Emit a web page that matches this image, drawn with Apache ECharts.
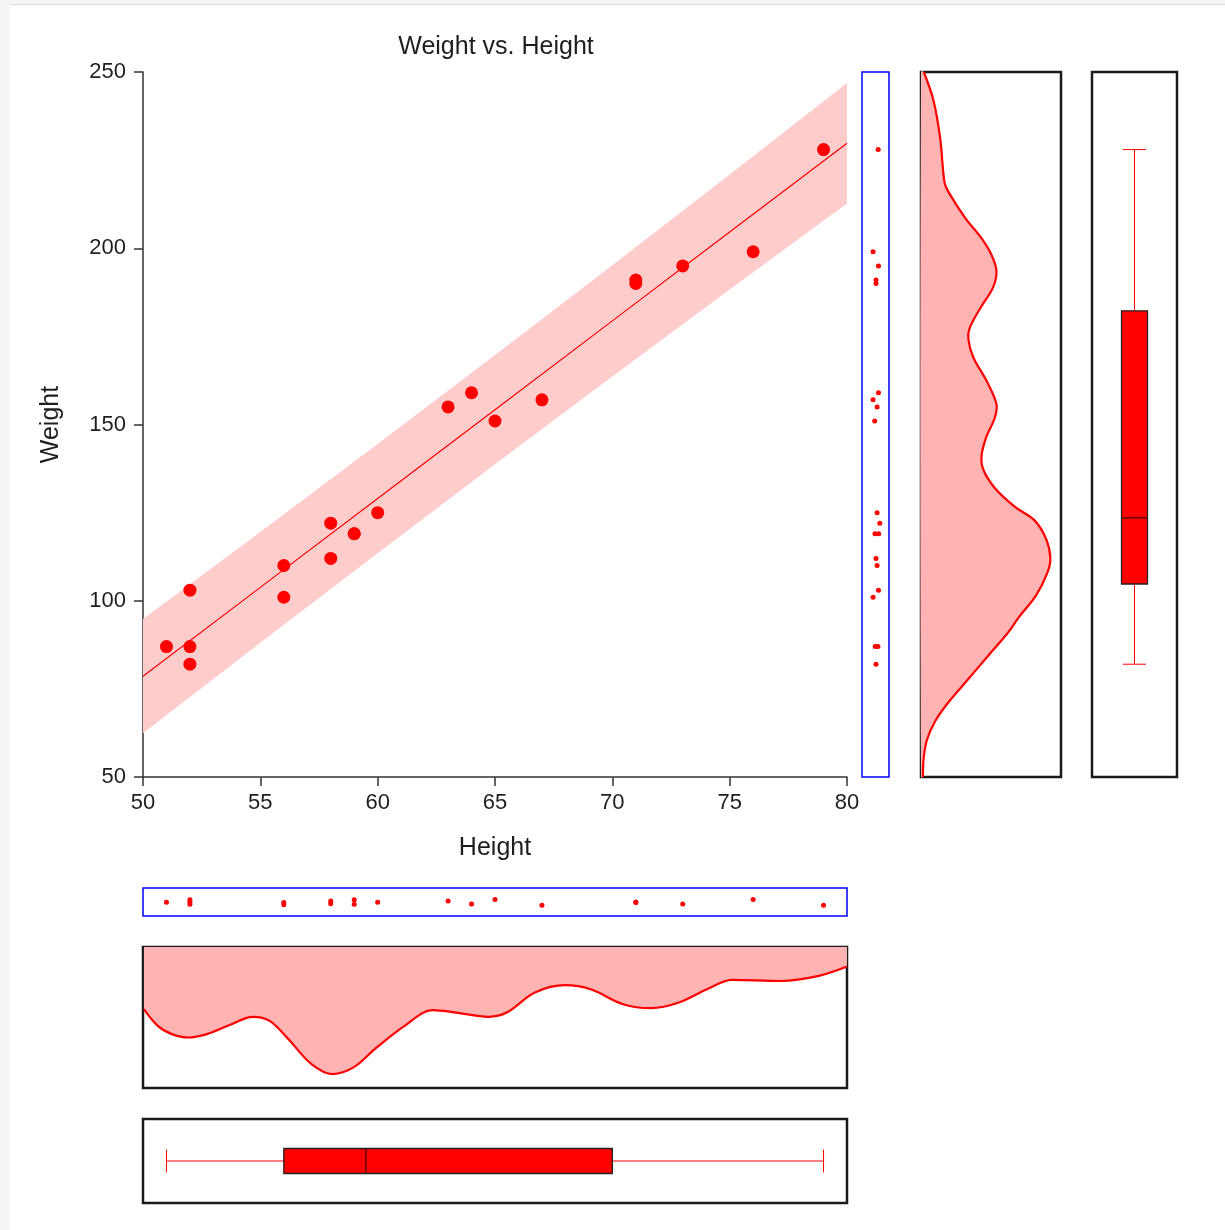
<!DOCTYPE html>
<html>
<head>
<meta charset="utf-8">
<title>Weight vs. Height</title>
<script src="https://cdn.jsdelivr.net/npm/echarts@6/dist/echarts.min.js"></script>
<style>
  html, body { margin: 0; padding: 0; background: #ffffff; }
  #chart { width: 1225px; height: 1230px; }
</style>
</head>
<body>
<div id="chart"></div>
<script>
// Observations (paired)
const heights = [51, 52, 52, 52, 56, 56, 58, 58, 59, 59, 60, 63, 64, 65, 67, 71, 71, 73, 76, 79];
const weights = [87, 103, 87, 82, 110, 101, 122, 112, 119, 119, 125, 155, 159, 151, 157, 191, 190, 195, 199, 228];

// Jitter positions of the marginal dot plots (fraction of the strip)
const weightJitter = [0.49, 0.61, 0.59, 0.52, 0.56, 0.41, 0.66, 0.52, 0.48, 0.62, 0.56, 0.56, 0.61, 0.47, 0.41, 0.52, 0.52, 0.61, 0.41, 0.60];
const heightJitter = [0.51, 0.42, 0.50, 0.58, 0.52, 0.60, 0.46, 0.56, 0.42, 0.58, 0.51, 0.46, 0.57, 0.41, 0.62, 0.50, 0.52, 0.57, 0.41, 0.62];

// Fitted line and prediction band
const bandX = [50, 55, 60, 65, 70, 75, 80];
const fitY = [78.6, 103.8, 129.0, 154.2, 179.4, 204.6, 229.8];
const bandLower = [62.4, 88.1, 113.5, 138.7, 163.6, 188.3, 212.7];
const bandUpper = [94.8, 119.5, 144.5, 169.7, 195.2, 220.9, 246.9];

// Box plot summaries: [min, Q1, median, Q3, max]
const heightBox = [51, 56, 59.5, 70, 79];
const weightBox = [82, 104.75, 123.5, 182.25, 228];

// Density of Weight (vertical panel): weight levels and relative density
const densWeight = [250, 241.8, 231.2, 218.7, 216, 208.7, 202.8, 198.1, 193.5, 188.9, 183.6, 177.6, 174.3, 169, 162.4, 155.8, 151.9, 146.6, 141.3, 137.3, 132, 126.7, 122.8, 117.5, 112.2, 108.2, 101.6, 95, 91, 84.4, 77.8, 71.2, 65.9, 60.6, 55.3, 50];
const densWeightVal = [0.02, 0.09, 0.137, 0.168, 0.196, 0.314, 0.433, 0.504, 0.539, 0.515, 0.433, 0.35, 0.338, 0.374, 0.468, 0.539, 0.527, 0.468, 0.433, 0.444, 0.527, 0.669, 0.811, 0.894, 0.924, 0.905, 0.823, 0.693, 0.622, 0.48, 0.338, 0.196, 0.102, 0.043, 0.019, 0.014];

// Density of Height (horizontal panel, drawn from the top edge)
const densHeight = [50.04, 50.63, 51.23, 51.92, 52.72, 53.61, 54.7, 55.4, 56.19, 57.18, 58.08, 58.97, 59.96, 61.15, 62.34, 63.33, 64.72, 65.5, 66.7, 67.99, 69.08, 70.46, 71.65, 72.84, 74.03, 75.1, 77.2, 78.8, 80];
const densHeightVal = [0.44, 0.559, 0.618, 0.642, 0.618, 0.559, 0.495, 0.524, 0.653, 0.83, 0.901, 0.854, 0.712, 0.559, 0.448, 0.465, 0.495, 0.465, 0.323, 0.271, 0.3, 0.406, 0.434, 0.394, 0.3, 0.233, 0.241, 0.205, 0.139];

const FONT = "'Liberation Sans', Arial, sans-serif";
const RED = '#ff0000';
const TEXT = '#1e1e1e';
const FRAME = '#1a1a1a';

const chart = echarts.init(document.getElementById('chart'), null, { renderer: 'canvas' });

const hidden = { show: false };
function hiddenValueAxis(gridIndex, min, max, inverse) {
  return { type: 'value', gridIndex, min, max, inverse: !!inverse,
    axisLine: hidden, axisTick: hidden, axisLabel: hidden, splitLine: hidden };
}
function hiddenCategoryAxis(gridIndex, name) {
  return { type: 'category', gridIndex, data: [name],
    axisLine: hidden, axisTick: hidden, axisLabel: hidden, splitLine: hidden };
}

// Box-and-whisker glyph: red whiskers with end caps, red box with dark outline and median
function boxRenderer(stats, horizontal, boxW, capW) {
  return function (params, api) {
    const pt = horizontal ? v => api.coord([v, 0]) : v => api.coord([0, v]);
    const children = [];
    const wh = { stroke: RED, lineWidth: 1 };
    if (horizontal) {
      const cy = pt(stats[2])[1];
      const x = stats.map(v => pt(v)[0]);
      children.push(
        { type: 'line', shape: { x1: x[0], y1: cy, x2: x[1], y2: cy }, style: wh },
        { type: 'line', shape: { x1: x[3], y1: cy, x2: x[4], y2: cy }, style: wh },
        { type: 'line', shape: { x1: x[0], y1: cy - capW / 2, x2: x[0], y2: cy + capW / 2 }, style: wh },
        { type: 'line', shape: { x1: x[4], y1: cy - capW / 2, x2: x[4], y2: cy + capW / 2 }, style: wh },
        { type: 'rect', shape: { x: x[1], y: cy - boxW / 2, width: x[3] - x[1], height: boxW },
          style: { fill: RED, stroke: '#222', lineWidth: 1.3 } },
        { type: 'line', shape: { x1: x[2], y1: cy - boxW / 2, x2: x[2], y2: cy + boxW / 2 },
          style: { stroke: '#111', lineWidth: 1 } }
      );
    } else {
      const cx = pt(stats[2])[0];
      const y = stats.map(v => pt(v)[1]);
      children.push(
        { type: 'line', shape: { x1: cx, y1: y[0], x2: cx, y2: y[1] }, style: wh },
        { type: 'line', shape: { x1: cx, y1: y[3], x2: cx, y2: y[4] }, style: wh },
        { type: 'line', shape: { x1: cx - capW / 2, y1: y[0], x2: cx + capW / 2, y2: y[0] }, style: wh },
        { type: 'line', shape: { x1: cx - capW / 2, y1: y[4], x2: cx + capW / 2, y2: y[4] }, style: wh },
        { type: 'rect', shape: { x: cx - boxW / 2, y: y[3], width: boxW, height: y[1] - y[3] },
          style: { fill: RED, stroke: '#222', lineWidth: 1.3 } },
        { type: 'line', shape: { x1: cx - boxW / 2, y1: y[2], x2: cx + boxW / 2, y2: y[2] },
          style: { stroke: '#111', lineWidth: 1 } }
      );
    }
    return { type: 'group', children };
  };
}

const boxFrame = { show: true, borderColor: FRAME, borderWidth: 2.5, backgroundColor: 'transparent' };
const dotFrame = { show: true, borderColor: '#0000ff', borderWidth: 1.5, backgroundColor: 'transparent' };

const option = {
  animation: false,
  backgroundColor: '#ffffff',
  textStyle: { fontFamily: FONT },
  title: {
    text: 'Weight vs. Height',
    left: 491, top: 30, textAlign: 'center',
    textStyle: { fontFamily: FONT, fontSize: 25, fontWeight: 'normal', color: TEXT }
  },
  graphic: [
    { type: 'rect', shape: { x: 0, y: 0, width: 10, height: 1230 }, style: { fill: '#f5f5f5' }, silent: true },
    { type: 'rect', shape: { x: 0, y: 0, width: 1225, height: 4 }, style: { fill: '#f5f5f5' }, silent: true },
    { type: 'line', shape: { x1: 10, y1: 4.5, x2: 1225, y2: 4.5 }, style: { stroke: '#dadada', lineWidth: 1 }, silent: true }
  ],
  grid: [
    { left: 143, top: 72, width: 704, height: 705 },                           // 0 scatter
    Object.assign({ left: 862, top: 72, width: 27, height: 705 }, dotFrame),   // 1 weight dots
    Object.assign({ left: 921, top: 72, width: 140, height: 705 }, boxFrame),  // 2 weight density
    Object.assign({ left: 1092, top: 72, width: 85, height: 705 }, boxFrame),  // 3 weight box
    Object.assign({ left: 143, top: 888, width: 704, height: 28 }, dotFrame),  // 4 height dots
    Object.assign({ left: 143, top: 947, width: 704, height: 141 }, boxFrame), // 5 height density
    Object.assign({ left: 143, top: 1119, width: 704, height: 84 }, boxFrame)  // 6 height box
  ],
  xAxis: [
    {
      type: 'value', gridIndex: 0, min: 50, max: 80, interval: 5,
      name: 'Height', nameLocation: 'middle', nameGap: 59,
      nameTextStyle: { fontFamily: FONT, fontSize: 25, color: TEXT },
      axisLine: { show: true, lineStyle: { color: '#333', width: 1.5 } },
      axisTick: { show: true, length: 9, lineStyle: { color: '#333', width: 1.5 } },
      axisLabel: { fontFamily: FONT, fontSize: 22, color: TEXT, margin: 15 },
      splitLine: hidden
    },
    hiddenValueAxis(1, 0, 1),
    hiddenValueAxis(2, 0, 1),
    hiddenCategoryAxis(3, 'Weight'),
    hiddenValueAxis(4, 50, 80),
    hiddenValueAxis(5, 50, 80),
    hiddenValueAxis(6, 50, 80)
  ],
  yAxis: [
    {
      type: 'value', gridIndex: 0, min: 50, max: 250, interval: 50,
      name: 'Weight', nameLocation: 'middle', nameGap: 79, nameRotate: 90,
      nameTextStyle: { fontFamily: FONT, fontSize: 25, color: TEXT },
      axisLine: { show: true, lineStyle: { color: '#333', width: 1.5 } },
      axisTick: { show: true, length: 9, lineStyle: { color: '#333', width: 1.5 } },
      axisLabel: { fontFamily: FONT, fontSize: 22, color: TEXT, margin: 17 },
      splitLine: hidden
    },
    hiddenValueAxis(1, 50, 250),
    hiddenValueAxis(2, 50, 250),
    hiddenValueAxis(3, 50, 250),
    hiddenValueAxis(4, 0, 1, true),
    hiddenValueAxis(5, 0, 1, true),
    hiddenCategoryAxis(6, 'Height')
  ],
  series: [
    // Prediction band
    {
      type: 'custom', xAxisIndex: 0, yAxisIndex: 0, silent: true, z: 1,
      data: [[bandX[0], bandLower[0]]],
      renderItem: function (params, api) {
        const pts = [];
        for (let i = 0; i < bandX.length; i++) pts.push(api.coord([bandX[i], bandUpper[i]]));
        for (let i = bandX.length - 1; i >= 0; i--) pts.push(api.coord([bandX[i], bandLower[i]]));
        return { type: 'polygon', shape: { points: pts }, style: { fill: '#ffcccc' } };
      }
    },
    // Fitted regression line
    {
      type: 'line', xAxisIndex: 0, yAxisIndex: 0, silent: true, z: 2,
      data: bandX.map((x, i) => [x, fitY[i]]),
      symbol: 'none', lineStyle: { color: RED, width: 1.2 }
    },
    // Observations
    {
      type: 'scatter', xAxisIndex: 0, yAxisIndex: 0, silent: true, z: 3,
      data: heights.map((h, i) => [h, weights[i]]),
      symbol: 'circle', symbolSize: 13, itemStyle: { color: RED, opacity: 1 }
    },
    // Weight dot plot
    {
      type: 'scatter', xAxisIndex: 1, yAxisIndex: 1, silent: true,
      data: weights.map((w, i) => [weightJitter[i], w]),
      symbol: 'circle', symbolSize: 5, itemStyle: { color: RED, opacity: 1 }
    },
    // Weight density
    {
      type: 'custom', xAxisIndex: 2, yAxisIndex: 2, silent: true,
      data: [[0, densWeight[0]]],
      renderItem: function (params, api) {
        const curve = densWeight.map((w, i) => api.coord([densWeightVal[i], w]));
        const poly = curve.concat([
          api.coord([0, densWeight[densWeight.length - 1]]),
          api.coord([0, densWeight[0]])
        ]);
        return {
          type: 'group',
          children: [
            { type: 'polygon', shape: { points: poly, smooth: 0.35 }, style: { fill: '#ffb3b3' } },
            { type: 'polyline', shape: { points: curve, smooth: 0.35 }, style: { stroke: RED, lineWidth: 2.2, fill: null } }
          ]
        };
      }
    },
    // Weight box plot
    {
      type: 'custom', xAxisIndex: 3, yAxisIndex: 3, silent: true,
      data: [[0, weightBox[2]]],
      renderItem: boxRenderer(weightBox, false, 26, 23)
    },
    // Height dot plot
    {
      type: 'scatter', xAxisIndex: 4, yAxisIndex: 4, silent: true,
      data: heights.map((h, i) => [h, heightJitter[i]]),
      symbol: 'circle', symbolSize: 5, itemStyle: { color: RED, opacity: 1 }
    },
    // Height density (filled from the top edge)
    {
      type: 'line', xAxisIndex: 5, yAxisIndex: 5, silent: true,
      data: densHeight.map((h, i) => [h, densHeightVal[i]]),
      smooth: 0.35, symbol: 'none',
      lineStyle: { color: RED, width: 2.2 },
      areaStyle: { color: '#ffb3b3', opacity: 1 }
    },
    // Height box plot
    {
      type: 'custom', xAxisIndex: 6, yAxisIndex: 6, silent: true,
      data: [[heightBox[2], 0]],
      renderItem: boxRenderer(heightBox, true, 25, 23)
    }
  ]
};

chart.setOption(option);
</script>
</body>
</html>
